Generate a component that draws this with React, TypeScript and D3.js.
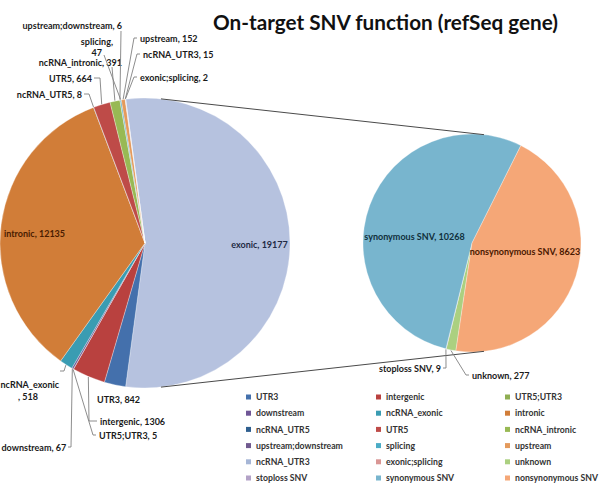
import React from 'react';
import * as d3 from 'd3';

const W = 611;
const H = 488;
const TITLE = 'On-target SNV function (refSeq gene)';

// First pie (exonic is the aggregated "other" slice, split into the second pie)
const pie1Names = ['exonic', 'UTR3', 'intergenic', 'UTR5;UTR3', 'downstream', 'ncRNA_exonic', 'intronic', 'ncRNA_UTR5', 'UTR5', 'ncRNA_intronic', 'upstream;downstream', 'splicing', 'upstream', 'ncRNA_UTR3', 'exonic;splicing'];
const pie1Values = [19177, 842, 1306, 5, 67, 518, 12135, 8, 664, 391, 6, 47, 152, 15, 2];

// Second pie
const pie2Names = ['unknown', 'stoploss SNV', 'synonymous SNV', 'nonsynonymous SNV'];
const pie2Values = [277, 9, 10268, 8623];

const legendNames = [...pie1Names.slice(1), ...pie2Names];

const colors: Record<string, string> = {
  'exonic': '#B6C2DF',
  'UTR3': '#4470AC',
  'intergenic': '#B9413F',
  'UTR5;UTR3': '#8FAE52',
  'downstream': '#6F5696',
  'ncRNA_exonic': '#3A9CB2',
  'intronic': '#D17D38',
  'ncRNA_UTR5': '#2F5F8F',
  'UTR5': '#BE4B48',
  'ncRNA_intronic': '#98B954',
  'upstream;downstream': '#705A8F',
  'splicing': '#4BACC6',
  'upstream': '#E49A5C',
  'ncRNA_UTR3': '#A6B6D6',
  'exonic;splicing': '#D99694',
  'unknown': '#ABD080',
  'stoploss SNV': '#B3A2C7',
  'synonymous SNV': '#78B5CE',
  'nonsynonymous SNV': '#F5A777',
};

// layout
const C1 = { x: 145, y: 243, r: 145 };
const C2 = { x: 472, y: 243, r: 109 };
const PIE2_START_DEG = 188.5;
const FONT = 'Lato, "Open Sans", sans-serif';

type Anchor = 'start' | 'end' | 'middle';
type LabelSpec = {
  x: number; y: number; anchor?: Anchor;
  split?: 'after' | 'before'; x2?: number; y2?: number; anchor2?: Anchor;
  leader?: [number, number][]; fill?: string;
};

const labelLayout: Record<string, LabelSpec> = {
  'upstream;downstream': { x: 122, y: 28.5, anchor: 'end', leader: [[121, 31]] },
  'splicing': { x: 113, y: 45, anchor: 'end', split: 'after', x2: 102, y2: 56, anchor2: 'end', leader: [[104, 55]] },
  'ncRNA_intronic': { x: 122, y: 66, anchor: 'end', leader: [[112, 67]] },
  'UTR5': { x: 92, y: 81.5, anchor: 'end', leader: [[94, 78], [100, 78]] },
  'ncRNA_UTR5': { x: 82, y: 97.5, anchor: 'end', leader: [[84, 94], [89, 94]] },
  'upstream': { x: 140, y: 41.5, leader: [[137, 38], [134, 38]] },
  'ncRNA_UTR3': { x: 143, y: 57.5, leader: [[140, 54], [137, 54]] },
  'exonic;splicing': { x: 140, y: 80.5, leader: [[137, 77], [134, 77]] },
  'intronic': { x: 34.5, y: 236.5, anchor: 'middle', fill: '#4A1C00' },
  'exonic': { x: 259.5, y: 247.5, anchor: 'middle', fill: '#1F2A44' },
  'UTR3': { x: 97, y: 402.5 },
  'intergenic': { x: 100, y: 424.5, leader: [[97, 421], [89, 421]] },
  'UTR5;UTR3': { x: 99, y: 438.5, leader: [[96, 435], [93, 435]] },
  'downstream': { x: 1.5, y: 450.5, leader: [[68, 447], [71, 447]] },
  'ncRNA_exonic': { x: 0.5, y: 387.5, split: 'before', x2: 18, y2: 399.5, leader: [[60, 371], [64, 371]] },
  'stoploss SNV': { x: 441, y: 371.5, anchor: 'end', leader: [[443, 368], [446, 368]] },
  'unknown': { x: 472, y: 378.5, leader: [[469, 375], [466, 375]] },
  'synonymous SNV': { x: 414.5, y: 239.5, anchor: 'middle', fill: '#10303C' },
  'nonsynonymous SNV': { x: 525, y: 254.5, anchor: 'middle', fill: '#4A1800' },
};

const LEG = { x0: 246, colStep: [0, 130, 259], y0: 397, rowStep: 16.2 };

function pt(cx: number, cy: number, r: number, a: number): [number, number] {
  return [cx + r * Math.sin(a), cy - r * Math.cos(a)];
}

export default function App() {
  const total1 = d3.sum(pie1Values);
  const a0 = Math.PI / 2 - Math.PI * (pie1Values[0] / total1);
  const arcs1 = d3.pie<number>().sort(null).value(d => d).startAngle(a0).endAngle(a0 + 2 * Math.PI)(pie1Values);
  const s2 = (PIE2_START_DEG * Math.PI) / 180;
  const arcs2 = d3.pie<number>().sort(null).value(d => d).startAngle(s2).endAngle(s2 + 2 * Math.PI)(pie2Values);
  const arc1 = d3.arc<d3.PieArcDatum<number>>().innerRadius(0).outerRadius(C1.r);
  const arc2 = d3.arc<d3.PieArcDatum<number>>().innerRadius(0).outerRadius(C2.r);

  // external tangent connectors
  const dist = C2.x - C1.x;
  const th = Math.asin((C1.r - C2.r) / dist);
  const topL = pt(C1.x, C1.y, C1.r, th), topR = pt(C2.x, C2.y, C2.r, th);
  const botL = pt(C1.x, C1.y, C1.r, Math.PI - th), botR = pt(C2.x, C2.y, C2.r, Math.PI - th);

  const line = d3.line();

  const txt = (key: string, s: string, x: number, y: number, anchor: Anchor | undefined, fill: string) => (
    <text key={key} x={x} y={y} fill={fill} textAnchor={anchor ?? 'start'}>{s}</text>
  );

  const renderLabel = (name: string, value: number, a: d3.PieArcDatum<number>, c: { x: number; y: number; r: number }) => {
    const L = labelLayout[name];
    if (!L) return null;
    const mid = (a.startAngle + a.endAngle) / 2;
    const fill = L.fill ?? '#1A1A1A';
    const els: React.ReactNode[] = [];
    if (L.leader) {
      const p = pt(c.x, c.y, c.r + 0.5, mid);
      els.push(<path key="l" d={line([...L.leader, p]) ?? ''} fill="none" stroke="#808080" strokeWidth={0.9} />);
    }
    if (L.split) {
      const t1 = L.split === 'after' ? `${name},` : name;
      const t2 = L.split === 'after' ? `${value}` : `, ${value}`;
      els.push(txt('t1', t1, L.x, L.y, L.anchor, fill));
      els.push(txt('t2', t2, L.x2 ?? L.x, L.y2 ?? L.y, L.anchor2, fill));
    } else {
      els.push(txt('t', `${name}, ${value}`, L.x, L.y, L.anchor, fill));
    }
    return <g key={name}>{els}</g>;
  };

  return (
    <svg width={W} height={H} style={{ position: 'absolute', left: 0, top: 0, background: '#fff' }} fontFamily={FONT}>
      <rect x={0} y={0} width={W} height={H} fill="#fff" />
      <text x={213} y={30} fontSize={21} fontWeight={700} fill="#111" textLength={345} lengthAdjust="spacingAndGlyphs">{TITLE}</text>

      <g>
        {arcs1.map((a, i) => (
          <path key={pie1Names[i]} d={arc1(a) ?? ''} transform={`translate(${C1.x},${C1.y})`} fill={colors[pie1Names[i]]} stroke="#fff" strokeWidth={0.3} />
        ))}
      </g>
      <g>
        {arcs2.map((a, i) => (
          <path key={pie2Names[i]} d={arc2(a) ?? ''} transform={`translate(${C2.x},${C2.y})`} fill={colors[pie2Names[i]]} stroke="#fff" strokeWidth={0.3} />
        ))}
      </g>

      <line x1={topL[0]} y1={topL[1]} x2={topR[0]} y2={topR[1]} stroke="#4a4a4a" strokeWidth={1} />
      <line x1={botL[0]} y1={botL[1]} x2={botR[0]} y2={botR[1]} stroke="#4a4a4a" strokeWidth={1} />

      <g fontSize={9} fontWeight={700}>
        {arcs1.map((a, i) => renderLabel(pie1Names[i], pie1Values[i], a, C1))}
        {arcs2.map((a, i) => renderLabel(pie2Names[i], pie2Values[i], a, C2))}
      </g>

      <g fontSize={8.7} fontWeight={700} fill="#333">
        {legendNames.map((n, i) => {
          const col = i % 3, row = Math.floor(i / 3);
          const x = LEG.x0 + LEG.colStep[col];
          const y = LEG.y0 + row * LEG.rowStep;
          return (
            <g key={n}>
              <rect x={x} y={y - 2.5} width={5} height={5} fill={colors[n]} />
              <text x={x + 10} y={y + 3.1}>{n}</text>
            </g>
          );
        })}
      </g>
    </svg>
  );
}
